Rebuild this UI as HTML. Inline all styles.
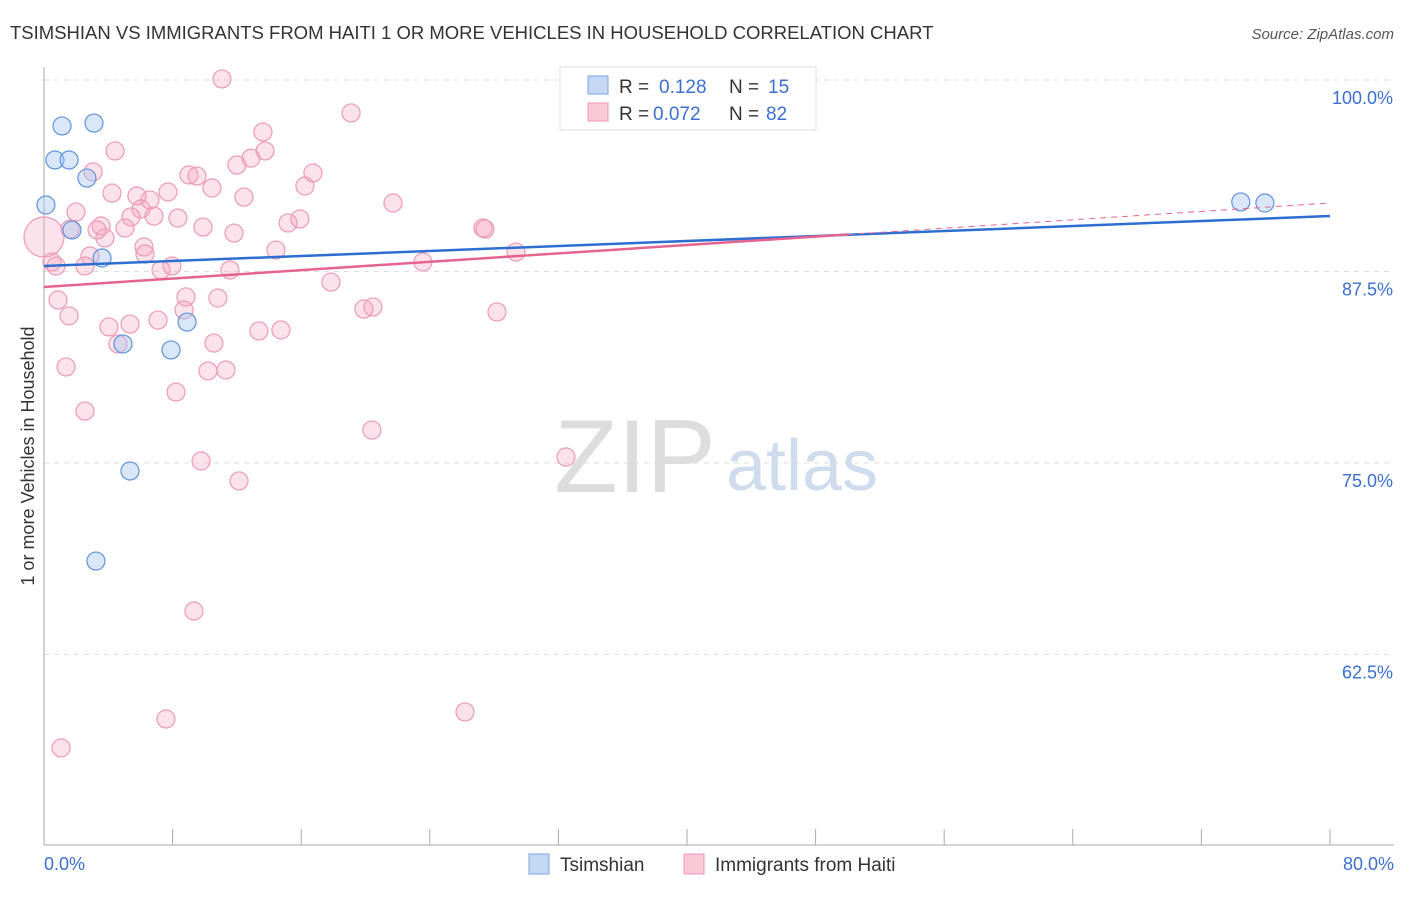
<!DOCTYPE html>
<html><head><meta charset="utf-8"><style>
body{margin:0;background:#fff;font-family:"Liberation Sans",sans-serif;}
svg text{font-family:"Liberation Sans",sans-serif;}
</style></head><body>
<svg id="chart" width="1406" height="892" xmlns="http://www.w3.org/2000/svg">
<text x="10" y="39" font-size="18.5" fill="#333">TSIMSHIAN VS IMMIGRANTS FROM HAITI 1 OR MORE VEHICLES IN HOUSEHOLD CORRELATION CHART</text>
<text x="1394" y="39" font-size="15" fill="#555" font-style="italic" text-anchor="end">Source: ZipAtlas.com</text>
<text x="0" y="0" transform="translate(34,456) rotate(-90)" font-size="18" fill="#333" text-anchor="middle">1 or more Vehicles in Household</text>
<g><text x="635" y="492" font-size="104" fill="#ddd" font-family="Liberation Serif" text-anchor="middle">ZIP</text><text x="802" y="490" font-size="72" fill="#cfdcee" text-anchor="middle">atlas</text></g>
<g id="grid"></g><g id="axes"></g><g id="pts"></g><g id="lines"></g>
<g>
<rect x="560" y="67" width="256" height="63" fill="#fff" stroke="#ddd"/>
<rect x="588" y="76" width="20" height="18" fill="#c5d8f3" stroke="#7aa6e0"/>
<rect x="588" y="103" width="20" height="18" fill="#f9c9d7" stroke="#ee99b4"/>
<text x="619" y="93" font-size="19" fill="#333">R = </text><text x="659" y="93" font-size="19" fill="#3a6fd0">0.128</text>
<text x="729" y="93" font-size="19" fill="#333">N = </text><text x="768" y="93" font-size="19" fill="#3a6fd0">15</text>
<text x="619" y="120" font-size="19" fill="#333">R = </text><text x="653" y="120" font-size="19" fill="#3a6fd0">0.072</text>
<text x="729" y="120" font-size="19" fill="#333">N = </text><text x="766" y="120" font-size="19" fill="#3a6fd0">82</text>
</g>
<g>
<rect x="529" y="854" width="20" height="20" fill="#c5d8f3" stroke="#7aa6e0"/>
<text x="560" y="871" font-size="19" fill="#333">Tsimshian</text>
<rect x="684" y="854" width="20" height="20" fill="#f9c9d7" stroke="#ee99b4"/>
<text x="715" y="871" font-size="19" fill="#333">Immigrants from Haiti</text>
</g>
</svg>
<script>
const yTicks=[100,87.5,75,62.5];
const yTickLabels=["100.0%","87.5%","75.0%","62.5%"];
const xTickLabels=["0.0%","80.0%"];
const blueX=[1.12,3.11,0.68,1.56,2.67,0.12,1.74,3.61,8.9,4.91,7.9,5.35,3.23,74.45,75.95];
const blueY=[97.0,97.19,94.78,94.78,93.6,91.84,90.21,88.38,84.2,82.77,82.38,74.48,68.6,92.04,91.97];
const pinkX=[11.07,19.1,13.62,4.42,13.75,12.0,12.88,3.05,9.02,9.52,16.73,16.23,10.45,7.71,4.23,5.78,12.44,21.71,6.59,6.03,1.99,5.41,6.84,8.33,15.92,15.18,3.55,1.62,5.04,3.3,9.89,11.82,27.31,27.43,3.79,6.22,14.43,29.36,2.86,6.28,23.57,0.75,2.55,0.5,7.96,7.28,11.57,17.85,8.83,10.82,0.87,1.56,19.9,20.46,28.18,4.04,5.35,7.09,8.71,13.37,14.74,10.57,4.6,1.37,10.2,11.32,8.21,2.55,20.4,9.77,32.47,12.13,9.33,7.59,26.19,1.06,46.2,0];
const pinkY=[100.07,97.85,96.61,95.37,95.37,94.45,94.9,94.0,93.8,93.73,93.93,93.08,92.95,92.69,92.62,92.43,92.36,91.97,92.17,91.58,91.38,91.06,91.12,90.99,90.93,90.67,90.47,90.27,90.34,90.21,90.4,90.01,90.34,90.27,89.69,89.1,88.9,88.77,88.51,88.64,88.12,87.86,87.86,88.12,87.86,87.6,87.6,86.81,85.84,85.77,85.64,84.6,85.05,85.18,84.86,83.88,84.07,84.33,84.99,83.62,83.68,82.83,82.77,81.27,81.01,81.07,79.63,78.39,77.15,75.13,75.39,73.83,65.34,58.29,58.75,56.4,97.85,89.75];
const blueTrend=[87.86,91.12];
const pinkTrend=[86.49,91.97];
const pinkSolidEnd=50;
const NS="http://www.w3.org/2000/svg";
const X=v=>44+v/80*1286, Y=v=>80+(100-v)*15.32;
function mk(t,a,p){const e=document.createElementNS(NS,t);for(const k in a)e.setAttribute(k,a[k]);p.appendChild(e);return e;}
const grid=document.getElementById('grid'),axes=document.getElementById('axes'),pts=document.getElementById('pts'),lines=document.getElementById('lines');
yTicks.forEach((t,i)=>{
 const l=mk('line',{x1:44,x2:1394,y1:Y(t),y2:Y(t),stroke:'#ddd','stroke-dasharray':'5,5'},grid);
 
 
 const tx=mk('text',{x:1393,y:Y(t)+24,'font-size':18,fill:'#3a6fd0','text-anchor':'end'},axes);tx.textContent=yTickLabels[i];
 
 
});
mk('line',{x1:44,x2:44,y1:67,y2:845,stroke:'#aaa'},axes);
mk('line',{x1:44,x2:1394,y1:845,y2:845,stroke:'#aaa'},axes);
for(let i=0;i<=10;i++){const x=X(i*8);mk('line',{x1:x,x2:x,y1:829,y2:845,stroke:'#aaa'},axes);}
[[0,'start',44],[80,'end',1394]].forEach((d,i)=>{const t=mk('text',{x:d[2],y:870,'font-size':18,fill:'#3a6fd0','text-anchor':d[1]},axes);t.textContent=xTickLabels[i];
 
 });
pinkX.forEach((v,i)=>{const r=(v===0&&i===pinkX.length-1)?20:9;const c=mk('circle',{cx:X(v),cy:Y(pinkY[i]),r:r,fill:'rgba(244,160,188,0.3)',stroke:'#ec9ab5','stroke-width':1.2},pts);
 
 });
blueX.forEach((v,i)=>{const c=mk('circle',{cx:X(v),cy:Y(blueY[i]),r:9,fill:'rgba(160,195,240,0.4)',stroke:'#5f93dc','stroke-width':1.2},pts);
 
 });
const pv=x=>pinkTrend[0]+(pinkTrend[1]-pinkTrend[0])*x/80;
let l1=mk('line',{x1:X(0),y1:Y(blueTrend[0]),x2:X(80),y2:Y(blueTrend[1]),stroke:'#2c6fd1','stroke-width':2.5},lines);


let l2=mk('line',{x1:X(0),y1:Y(pv(0)),x2:X(pinkSolidEnd),y2:Y(pv(pinkSolidEnd)),stroke:'#e4648f','stroke-width':2.5},lines);


let l3=mk('line',{x1:X(pinkSolidEnd),y1:Y(pv(pinkSolidEnd)),x2:X(80),y2:Y(pv(80)),stroke:'#e4648f','stroke-width':1,'stroke-dasharray':'6,5'},lines);


</script>
</body></html>
